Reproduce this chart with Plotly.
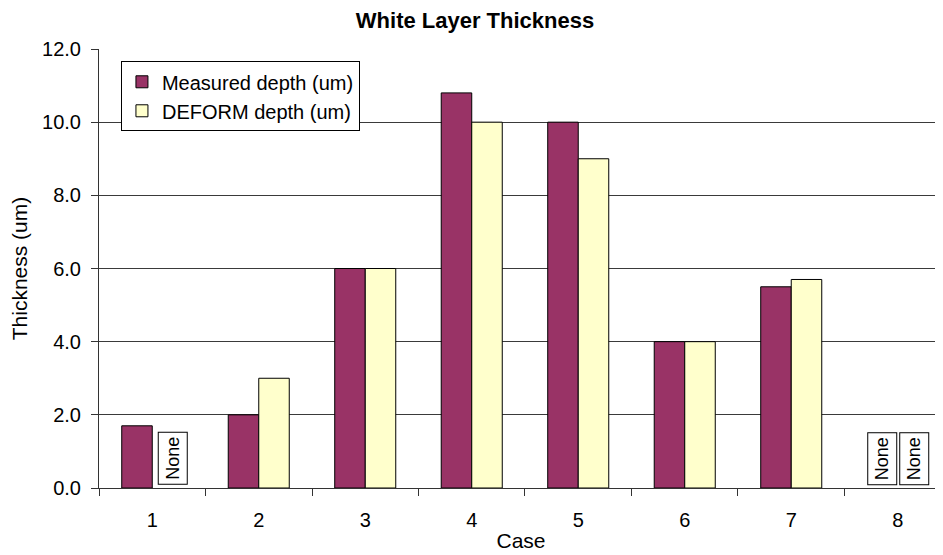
import plotly.graph_objects as go

cases = ["1", "2", "3", "4", "5", "6", "7", "8"]
measured = [1.7, 2.0, 6.0, 10.8, 10.0, 4.0, 5.5, None]
deform = [None, 3.0, 6.0, 10.0, 9.0, 4.0, 5.7, None]
none_labels = [("1", 1), ("8", 0), ("8", 1)]  # (case, series index) where value is None
y_ticks = [0, 2, 4, 6, 8, 10, 12]

FONT = "Liberation Sans, Arial, sans-serif"

fig = go.Figure()
fig.add_trace(go.Bar(x=cases, y=measured, name="Measured depth (um)",
                     marker=dict(color="#993366", line=dict(color="black", width=1))))
fig.add_trace(go.Bar(x=cases, y=deform, name="DEFORM depth (um)",
                     marker=dict(color="#FFFFCC", line=dict(color="black", width=1))))

for c, s in none_labels:
    fig.add_annotation(x=cases.index(c), y=0, xref="x", yref="y", text="None", textangle=-90,
                       showarrow=False, yanchor="bottom", yshift=3,
                       xshift=(-16 if s == 0 else 16) if c != "1" else 20,
                       font=dict(family=FONT, size=18, color="black"),
                       bordercolor="black", borderwidth=1, bgcolor="white", borderpad=4)

fig.update_layout(
    width=935, height=547,
    margin=dict(l=91, r=0, t=41, b=67, pad=0, autoexpand=False),
    paper_bgcolor="white", plot_bgcolor="white",
    barmode="group", bargap=0.427, bargroupgap=0,
    font=dict(family=FONT, size=20, color="black"),
    title=dict(text="<b>White Layer Thickness</b>", x=0.4995, xanchor="center",
               y=0.978, yanchor="middle", font=dict(size=22)),
    legend=dict(x=0.026, y=0.972, xanchor="left", yanchor="top",
                bordercolor="black", borderwidth=1, bgcolor="white",
                font=dict(size=20), tracegroupgap=0, itemwidth=30),
    xaxis=dict(type="category", range=[-0.5, 7.425], title=dict(text="Case", standoff=3,
               font=dict(size=21)),
               tickson="boundaries", ticks="outside", ticklen=7, tickcolor="#333333",
               showline=True, linecolor="#333333", linewidth=1, showgrid=False,
               tickfont=dict(size=20), ticklabelstandoff=14, automargin=False),
    yaxis=dict(title=dict(text="Thickness (um)", standoff=9, font=dict(size=21)),
               range=[0, 12], tickvals=y_ticks, tickformat=".1f", ticks="outside", ticklen=7,
               tickcolor="#333333", showline=True, linecolor="#333333", linewidth=1,
               showgrid=True, gridcolor="#3a3a3a", gridwidth=1, zeroline=False,
               tickfont=dict(size=20), ticklabelstandoff=6, automargin=False),
    showlegend=True,
)

fig.write_html("out.html")
